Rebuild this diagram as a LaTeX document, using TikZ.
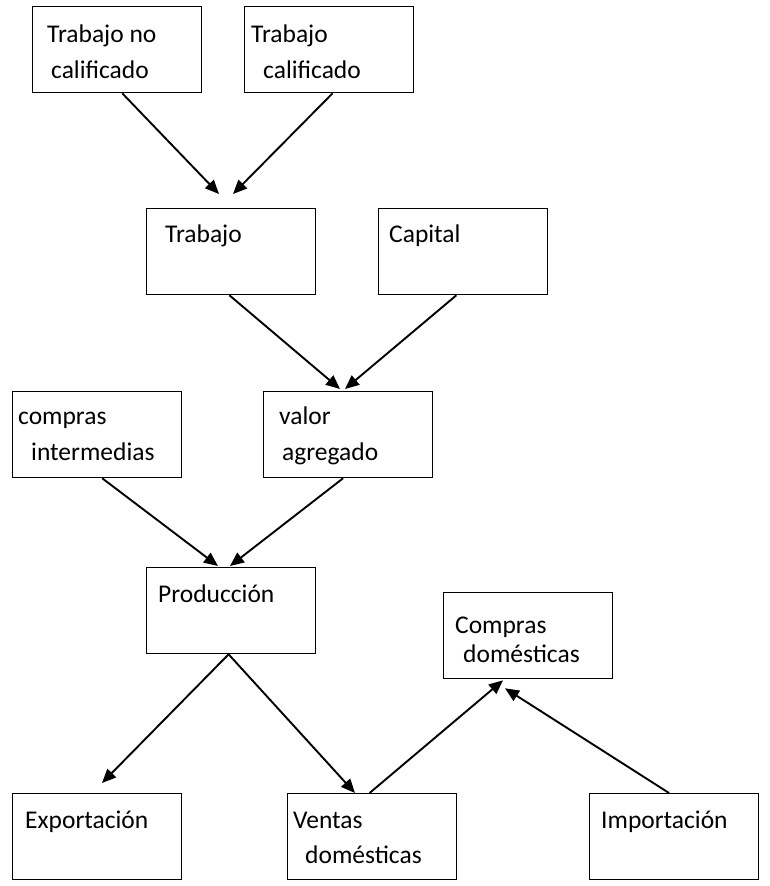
\documentclass[tikz,border=0pt]{standalone}
\usepackage{fontspec}
\setmainfont{Carlito}
\usetikzlibrary{arrows.meta,calc}

\begin{document}
\begin{tikzpicture}[
  x=1pt, y=-1pt,
  box/.style={draw, line width=1.3pt, minimum width=169pt, minimum height=86pt, inner sep=0pt, anchor=north west},
  lbl/.style={anchor=base west, inner sep=0pt, align=left, font=\fontsize{25.5}{36}\selectfont},
  arrow/.style={-{Triangle[length=14pt, width=12pt]}, line width=1.9pt}
]
\useasboundingbox (0,0) rectangle (769,886);

\node[box] (tnc) at (32,6) {};
\node[box] (tc) at (244,6) {};
\node[box] (trab) at (146,208) {};
\node[box] (cap) at (378,208) {};
\node[box] (ci) at (12,391) {};
\node[box] (va) at (263,391) {};
\node[box] (prod) at (146,567) {};
\node[box] (cd) at (443,592) {};
\node[box] (exp) at (12,793) {};
\node[box] (vd) at (287,793) {};
\node[box] (imp) at (589,793) {};

\node[lbl] (tncl) at ($(tnc.north west)+(15,72)$) {Trabajo no\\\hspace*{4pt}calificado};
\node[lbl] (tcl) at ($(tc.north west)+(7,72)$) {Trabajo\\\hspace*{12pt}calificado};
\node[lbl] (trabl) at ($(trab.north west)+(19,34)$) {Trabajo};
\node[lbl] (capl) at ($(cap.north west)+(11,34)$) {Capital};
\node[lbl] (cil) at ($(ci.north west)+(6,69)$) {compras\\\hspace*{13pt}intermedias};
\node[lbl] (val) at ($(va.north west)+(16,69)$) {valor\\\hspace*{3pt}agregado};
\node[lbl] (prodl) at ($(prod.north west)+(12,35)$) {Producción};
\node[lbl, font=\fontsize{25.5}{29}\selectfont] (cdl) at ($(cd.north west)+(12,70)$) {Compras\\\hspace*{8pt}domésticas};
\node[lbl] (expl) at ($(exp.north west)+(13,35)$) {Exportación};
\node[lbl, font=\fontsize{25.5}{35}\selectfont] (vdl) at ($(vd.north west)+(6,70)$) {Ventas\\\hspace*{12pt}domésticas};
\node[lbl] (impl) at ($(imp.north west)+(12,35)$) {Importación};

\draw[arrow] ($(tnc.south west)!0.53!(tnc.south east)$) -- ($(trab.north west)+(73,-14)$);
\draw[arrow] ($(tc.south west)!0.52!(tc.south east)$) -- ($(trab.north west)+(87,-14)$);
\draw[arrow] ($(trab.south west)!0.49!(trab.south east)$) -- ($(va.north west)+(77,-2)$);
\draw[arrow] ($(cap.south west)!0.46!(cap.south east)$) -- ($(va.north west)+(82,-2)$);
\draw[arrow] ($(ci.south west)!0.53!(ci.south east)$) -- ($(prod.north west)+(72,-1)$);
\draw[arrow] ($(va.south west)!0.47!(va.south east)$) -- ($(prod.north west)+(84,-1)$);
\draw[arrow] ($(prod.south west)!0.485!(prod.south east)$) -- ($(exp.north west)+(90,-10)$);
\draw[arrow] ($(prod.south west)!0.485!(prod.south east)$) -- ($(vd.north west)+(68,0)$);
\draw[arrow] ($(vd.north west)!0.485!(vd.north east)$) -- ($(cd.south west)+(60,1)$);
\draw[arrow] ($(imp.north west)!0.47!(imp.north east)$) -- ($(cd.south west)+(62,9)$);
\end{tikzpicture}
\end{document}
